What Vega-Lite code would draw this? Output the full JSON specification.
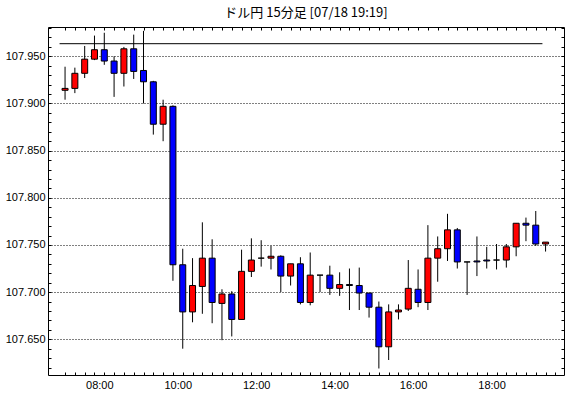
{
  "$schema": "https://vega.github.io/schema/vega-lite/v6.json",
  "autosize": {"type": "none"},
  "padding": {"left": 48, "top": 27, "right": 6, "bottom": 23},
  "width": 516,
  "height": 348,
  "background": "white",
  "config": {
    "view": {"stroke": "black", "strokeWidth": 1},
    "axis": {"labelFont": "Liberation Sans", "labelFontSize": 11, "labelColor": "black", "tickColor": "black", "domain": false, "title": null}
  },
  "title": {"text": "ドル円 15分足 [07/18 19:19]", "font": "Noto Sans CJK JP", "fontSize": 13, "fontWeight": "normal", "color": "black", "offset": -11, "baseline": "bottom"},
  "datasets": {
    "candles": [
      {"t": 7.00, "open": 107.914, "high": 107.939, "low": 107.904, "close": 107.916},
      {"t": 7.25, "open": 107.916, "high": 107.938, "low": 107.911, "close": 107.932},
      {"t": 7.50, "open": 107.932, "high": 107.961, "low": 107.927, "close": 107.947},
      {"t": 7.75, "open": 107.947, "high": 107.972, "low": 107.946, "close": 107.957},
      {"t": 8.00, "open": 107.957, "high": 107.975, "low": 107.941, "close": 107.945},
      {"t": 8.25, "open": 107.945, "high": 107.950, "low": 107.907, "close": 107.932},
      {"t": 8.50, "open": 107.932, "high": 107.960, "low": 107.918, "close": 107.958},
      {"t": 8.75, "open": 107.958, "high": 107.973, "low": 107.926, "close": 107.934},
      {"t": 9.00, "open": 107.935, "high": 107.977, "low": 107.900, "close": 107.923},
      {"t": 9.25, "open": 107.923, "high": 107.924, "low": 107.867, "close": 107.878},
      {"t": 9.50, "open": 107.878, "high": 107.904, "low": 107.860, "close": 107.897},
      {"t": 9.75, "open": 107.897, "high": 107.898, "low": 107.712, "close": 107.729},
      {"t": 10.00, "open": 107.729, "high": 107.746, "low": 107.640, "close": 107.679},
      {"t": 10.25, "open": 107.679, "high": 107.736, "low": 107.668, "close": 107.707},
      {"t": 10.50, "open": 107.706, "high": 107.774, "low": 107.677, "close": 107.736},
      {"t": 10.75, "open": 107.736, "high": 107.756, "low": 107.667, "close": 107.689},
      {"t": 11.00, "open": 107.688, "high": 107.703, "low": 107.649, "close": 107.698},
      {"t": 11.25, "open": 107.698, "high": 107.701, "low": 107.653, "close": 107.671},
      {"t": 11.50, "open": 107.671, "high": 107.745, "low": 107.671, "close": 107.722},
      {"t": 11.75, "open": 107.722, "high": 107.757, "low": 107.716, "close": 107.734},
      {"t": 12.00, "open": 107.736, "high": 107.755, "low": 107.727, "close": 107.736},
      {"t": 12.25, "open": 107.736, "high": 107.749, "low": 107.724, "close": 107.738},
      {"t": 12.50, "open": 107.738, "high": 107.739, "low": 107.700, "close": 107.717},
      {"t": 12.75, "open": 107.717, "high": 107.730, "low": 107.707, "close": 107.730},
      {"t": 13.00, "open": 107.730, "high": 107.737, "low": 107.687, "close": 107.689},
      {"t": 13.25, "open": 107.689, "high": 107.742, "low": 107.686, "close": 107.718},
      {"t": 13.50, "open": 107.718, "high": 107.718, "low": 107.700, "close": 107.718},
      {"t": 13.75, "open": 107.718, "high": 107.728, "low": 107.697, "close": 107.704},
      {"t": 14.00, "open": 107.704, "high": 107.721, "low": 107.696, "close": 107.708},
      {"t": 14.25, "open": 107.708, "high": 107.725, "low": 107.681, "close": 107.707},
      {"t": 14.50, "open": 107.707, "high": 107.726, "low": 107.681, "close": 107.699},
      {"t": 14.75, "open": 107.699, "high": 107.699, "low": 107.673, "close": 107.684},
      {"t": 15.00, "open": 107.684, "high": 107.690, "low": 107.619, "close": 107.642},
      {"t": 15.25, "open": 107.642, "high": 107.687, "low": 107.628, "close": 107.679},
      {"t": 15.50, "open": 107.679, "high": 107.687, "low": 107.671, "close": 107.681},
      {"t": 15.75, "open": 107.682, "high": 107.734, "low": 107.680, "close": 107.704},
      {"t": 16.00, "open": 107.703, "high": 107.724, "low": 107.684, "close": 107.689},
      {"t": 16.25, "open": 107.689, "high": 107.771, "low": 107.681, "close": 107.736},
      {"t": 16.50, "open": 107.736, "high": 107.759, "low": 107.711, "close": 107.746},
      {"t": 16.75, "open": 107.746, "high": 107.783, "low": 107.733, "close": 107.766},
      {"t": 17.00, "open": 107.766, "high": 107.768, "low": 107.725, "close": 107.732},
      {"t": 17.25, "open": 107.732, "high": 107.732, "low": 107.697, "close": 107.732},
      {"t": 17.50, "open": 107.733, "high": 107.759, "low": 107.717, "close": 107.732},
      {"t": 17.75, "open": 107.734, "high": 107.748, "low": 107.725, "close": 107.733},
      {"t": 18.00, "open": 107.734, "high": 107.751, "low": 107.724, "close": 107.734},
      {"t": 18.25, "open": 107.734, "high": 107.751, "low": 107.726, "close": 107.748},
      {"t": 18.50, "open": 107.748, "high": 107.773, "low": 107.738, "close": 107.773},
      {"t": 18.75, "open": 107.773, "high": 107.779, "low": 107.754, "close": 107.771},
      {"t": 19.00, "open": 107.771, "high": 107.786, "low": 107.749, "close": 107.751},
      {"t": 19.25, "open": 107.751, "high": 107.753, "low": 107.743, "close": 107.753}
    ],
    "level": [{"start": 6.86, "end": 19.17, "price": 107.9634}]
  },
  "data": {"name": "candles"},
  "resolve": {"axis": {"x": "independent", "y": "independent"}},
  "layer": [
    {
      "mark": {"type": "rule", "color": "black", "strokeWidth": 1},
      "encoding": {
        "x": {
          "field": "t", "type": "quantitative",
          "scale": {"domain": [6.6925, 19.5925], "nice": false, "zero": false},
          "axis": {
            "orient": "bottom",
            "values": [7, 7.25, 7.5, 7.75, 8, 8.25, 8.5, 8.75, 9, 9.25, 9.5, 9.75, 10, 10.25, 10.5, 10.75, 11, 11.25, 11.5, 11.75, 12, 12.25, 12.5, 12.75, 13, 13.25, 13.5, 13.75, 14, 14.25, 14.5, 14.75, 15, 15.25, 15.5, 15.75, 16, 16.25, 16.5, 16.75, 17, 17.25, 17.5, 17.75, 18, 18.25, 18.5, 18.75, 19, 19.25, 19.5],
            "labelExpr": "(datum.value % 2 == 0 && datum.value >= 8) ? ((datum.value < 10 ? '0' : '') + datum.value + ':00') : ''",
            "tickSize": -3, "labelPadding": 7, "labelOffset": -5,
            "grid": false, "labelOverlap": false, "labelFlush": false, "labelBound": false
          }
        },
        "y": {
          "field": "low", "type": "quantitative",
          "scale": {"domain": [107.6121, 107.9811], "nice": false, "zero": false},
          "axis": {
            "orient": "left",
            "values": [107.62, 107.63, 107.64, 107.65, 107.66, 107.67, 107.68, 107.69, 107.70, 107.71, 107.72, 107.73, 107.74, 107.75, 107.76, 107.77, 107.78, 107.79, 107.80, 107.81, 107.82, 107.83, 107.84, 107.85, 107.86, 107.87, 107.88, 107.89, 107.90, 107.91, 107.92, 107.93, 107.94, 107.95, 107.96, 107.97, 107.98],
            "labelExpr": "abs(round(datum.value * 20) - datum.value * 20) < 0.01 ? format(datum.value, '.3f') : ''",
            "tickSize": -3, "labelPadding": 6,
            "grid": true, "gridColor": "black", "gridDash": [1, 2], "gridWidth": 1,
            "gridOpacity": {"condition": {"test": "abs(round(datum.value * 20) - datum.value * 20) < 0.01", "value": 1}, "value": 0},
            "labelOverlap": false, "labelFlush": false, "labelBound": false
          }
        },
        "y2": {"field": "high"}
      }
    },
    {
      "mark": {"type": "bar", "width": 6, "stroke": "black", "strokeWidth": 1},
      "encoding": {
        "x": {
          "field": "t", "type": "quantitative",
          "axis": {
            "orient": "top",
            "values": [7, 7.25, 7.5, 7.75, 8, 8.25, 8.5, 8.75, 9, 9.25, 9.5, 9.75, 10, 10.25, 10.5, 10.75, 11, 11.25, 11.5, 11.75, 12, 12.25, 12.5, 12.75, 13, 13.25, 13.5, 13.75, 14, 14.25, 14.5, 14.75, 15, 15.25, 15.5, 15.75, 16, 16.25, 16.5, 16.75, 17, 17.25, 17.5, 17.75, 18, 18.25, 18.5, 18.75, 19, 19.25, 19.5],
            "labels": false, "tickSize": -3, "grid": false
          }
        },
        "y": {
          "field": "open", "type": "quantitative",
          "axis": {
            "orient": "right",
            "values": [107.62, 107.63, 107.64, 107.65, 107.66, 107.67, 107.68, 107.69, 107.70, 107.71, 107.72, 107.73, 107.74, 107.75, 107.76, 107.77, 107.78, 107.79, 107.80, 107.81, 107.82, 107.83, 107.84, 107.85, 107.86, 107.87, 107.88, 107.89, 107.90, 107.91, 107.92, 107.93, 107.94, 107.95, 107.96, 107.97, 107.98],
            "labels": false, "tickSize": -3, "grid": false
          }
        },
        "y2": {"field": "close"},
        "fill": {"condition": {"test": "datum.close > datum.open", "value": "#ff0000"}, "value": "#0000ff"}
      }
    },
    {
      "data": {"name": "level"},
      "mark": {"type": "rule", "color": "black", "strokeWidth": 1},
      "encoding": {
        "x": {"field": "start", "type": "quantitative", "axis": null},
        "x2": {"field": "end"},
        "y": {"field": "price", "type": "quantitative", "axis": null}
      }
    }
  ]
}
